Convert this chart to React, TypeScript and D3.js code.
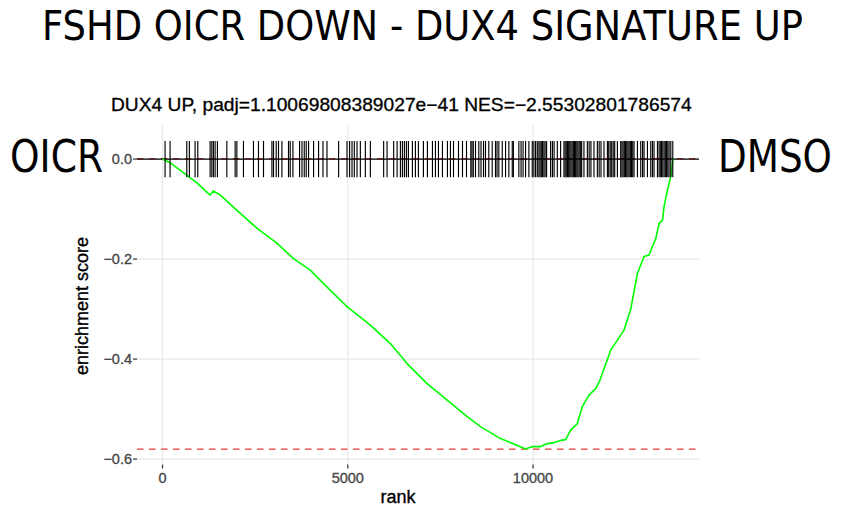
import { useEffect, useRef } from "react";
import * as d3 from "d3";

// number of ranked genes
const N_GENES = 13790;

// positions (rank) of the DUX4 UP pathway genes
const hitRanks = [
  68, 203, 654, 724, 878, 951, 1284, 1330, 1373, 1419, 1481, 1735, 1960, 2006,
  2184, 2454, 2589, 2725, 2952, 2995, 3068, 3130, 3222, 3400, 3446, 3519, 3698,
  3763, 3825, 3879, 3941, 4076, 4211, 4330, 4438, 4752, 4979, 5049, 5114, 5176,
  5249, 5339, 5474, 5609, 5968, 6060, 6238, 6331, 6420, 6474, 6528, 6582, 6636,
  6744, 6825, 6906, 7041, 7149, 7285, 7366, 7447, 7555, 7690, 7771, 7853, 7988,
  8096, 8204, 8320, 8352, 8387, 8447, 8536, 8596, 8663, 8717, 8806, 8898, 8987,
  9028, 9077, 9169, 9258, 9347, 9439, 9469, 9617, 9677, 9731, 9798, 9888, 9979,
  10023, 10069, 10115, 10158, 10190, 10223, 10258, 10293, 10325, 10366, 10474,
  10523, 10569, 10655, 10744, 10834, 10866, 10896, 10928, 10961, 10993, 11023,
  11055, 11088, 11117, 11150, 11182, 11212, 11244, 11277, 11312, 11374, 11466,
  11515, 11563, 11645, 11736, 11785, 11834, 11915, 12007, 12042, 12083, 12123,
  12164, 12204, 12277, 12366, 12399, 12431, 12464, 12496, 12529, 12561, 12593,
  12626, 12658, 12691, 12726, 12818, 12907, 12956, 12996, 13088, 13177, 13223,
  13266, 13358, 13401, 13434, 13466, 13502, 13537, 13570, 13601, 13637, 13672,
  13718, 13772,
];

// running enrichment score
const esRank = [
  0, 235, 650, 920, 1284, 1370, 1560, 2000, 2545, 3085, 3535, 3987, 4347, 4978,
  5608, 6149, 6600, 7141, 7682, 8223, 8582, 9123, 9483, 9800, 9980, 10204,
  10385, 10565, 10790, 10880, 11015, 11195, 11330, 11510, 11690, 11807, 12097,
  12456, 12637, 12817, 12997, 13132, 13222, 13312, 13402, 13493, 13537, 13627,
  13735, 13772, 13790,
];
const esValue = [
  0, -0.009, -0.032, -0.047, -0.072, -0.064, -0.072, -0.102, -0.138, -0.168,
  -0.199, -0.222, -0.249, -0.295, -0.332, -0.369, -0.409, -0.449, -0.482,
  -0.515, -0.535, -0.559, -0.57, -0.58, -0.575, -0.575, -0.569, -0.567, -0.562,
  -0.561, -0.542, -0.529, -0.495, -0.472, -0.459, -0.442, -0.382, -0.342, -0.3,
  -0.229, -0.195, -0.192, -0.175, -0.159, -0.129, -0.122, -0.095, -0.062,
  -0.029, 0, 0,
];

const topES = 0.001;
const bottomES = -0.58;

const xTicks = [0, 5000, 10000];
const yTicks = [0, -0.2, -0.4, -0.6];

const mainTitle = "FSHD OICR DOWN - DUX4 SIGNATURE UP";
const plotTitle = "DUX4 UP, padj=1.10069808389027e\u221241 NES=\u22122.55302801786574";
const leftLabel = "OICR";
const rightLabel = "DMSO";

const GG = "'Liberation Sans', Arial, sans-serif";
const DJ = "'DejaVu Sans', sans-serif";

type Sel = d3.Selection<SVGSVGElement, unknown, null, undefined>;

// text squeezed horizontally to a measured width
function fitText(svg: Sel, txt: string, x: number, y: number, w: number, size: number, family: string, weight = "normal") {
  const t = svg
    .append("text")
    .attr("font-family", family)
    .attr("font-size", size)
    .attr("font-weight", weight)
    .text(txt);
  const len = (t.node() as SVGTextElement).getComputedTextLength() || w;
  t.attr("transform", `translate(${x},${y}) scale(${w / len},1)`);
  return t;
}

export default function App() {
  const ref = useRef<SVGSVGElement | null>(null);

  useEffect(() => {
    if (!ref.current) return;
    const svg = d3.select(ref.current);
    svg.selectAll("*").remove();

    const panel = { left: 137, right: 699, top: 125.5, bottom: 464.5 };
    const diff = (topES - bottomES) / 8;

    const x = d3
      .scaleLinear()
      .domain([-0.05 * N_GENES, 1.05 * N_GENES])
      .range([panel.left, panel.right]);

    const yMin = Math.min(bottomES, -diff / 2);
    const yMax = Math.max(topES, diff / 2);
    const pad = (yMax - yMin) * 0.05;
    const y = d3
      .scaleLinear()
      .domain([yMin - pad, yMax + pad])
      .range([panel.bottom, panel.top]);

    svg
      .append("rect")
      .attr("width", 845)
      .attr("height", 521)
      .attr("fill", "white");

    // grid
    const grid = svg.append("g").attr("stroke", "#e8e8e8").attr("stroke-width", 1.2);
    xTicks.forEach((t) => {
      grid
        .append("line")
        .attr("x1", x(t))
        .attr("x2", x(t))
        .attr("y1", panel.top)
        .attr("y2", panel.bottom);
    });
    yTicks.forEach((t) => {
      grid
        .append("line")
        .attr("x1", panel.left)
        .attr("x2", panel.right)
        .attr("y1", y(t))
        .attr("y2", y(t));
    });

    const pts: [number, number][] = esRank.map((r, i) => [r, esValue[i]]);

    // points
    svg
      .append("g")
      .selectAll("circle")
      .data(pts)
      .join("circle")
      .attr("cx", (d) => x(d[0]))
      .attr("cy", (d) => y(d[1]))
      .attr("r", 0.7)
      .attr("fill", "#00ff00");

    // dashed extremes
    [topES, bottomES].forEach((v) => {
      svg
        .append("line")
        .attr("x1", panel.left)
        .attr("x2", panel.right)
        .attr("y1", y(v))
        .attr("y2", y(v))
        .attr("stroke", "#ee3b3b")
        .attr("stroke-width", 1.2)
        .attr("stroke-dasharray", "6.5,5.5");
    });

    svg
      .append("line")
      .attr("x1", panel.left)
      .attr("x2", panel.right)
      .attr("y1", y(0))
      .attr("y2", y(0))
      .attr("stroke", "black")
      .attr("stroke-width", 1.3);

    const line = d3
      .line<[number, number]>()
      .x((d) => x(d[0]))
      .y((d) => y(d[1]));

    svg
      .append("path")
      .datum(pts)
      .attr("fill", "none")
      .attr("stroke", "#00ff00")
      .attr("stroke-width", 1.6)
      .attr("stroke-linejoin", "round")
      .attr("d", line);

    // rug of pathway genes
    svg
      .append("g")
      .selectAll("line")
      .data(hitRanks)
      .join("line")
      .attr("x1", (d) => x(d))
      .attr("x2", (d) => x(d))
      .attr("y1", y(-diff / 2))
      .attr("y2", y(diff / 2))
      .attr("stroke", "black")
      .attr("stroke-width", 1.15);

    // axes
    const xAxis = svg.append("g");
    xTicks.forEach((t) => {
      xAxis
        .append("line")
        .attr("x1", x(t))
        .attr("x2", x(t))
        .attr("y1", panel.bottom)
        .attr("y2", panel.bottom + 4)
        .attr("stroke", "#333333")
        .attr("stroke-width", 1.2);
      xAxis
        .append("text")
        .attr("x", x(t))
        .attr("y", 483)
        .attr("text-anchor", "middle")
        .attr("font-family", GG)
        .attr("font-size", 14.5)
        .attr("fill", "#444444")
        .attr("stroke", "#444444")
        .attr("stroke-width", 0.3)
        .text(d3.format("d")(t));
    });

    const yAxis = svg.append("g");
    yTicks.forEach((t) => {
      yAxis
        .append("line")
        .attr("x1", panel.left - 4)
        .attr("x2", panel.left)
        .attr("y1", y(t))
        .attr("y2", y(t))
        .attr("stroke", "#333333")
        .attr("stroke-width", 1.2);
      yAxis
        .append("text")
        .attr("x", panel.left - 5)
        .attr("y", y(t))
        .attr("dy", "0.35em")
        .attr("text-anchor", "end")
        .attr("font-family", GG)
        .attr("font-size", 14.5)
        .attr("fill", "#444444")
        .attr("stroke", "#444444")
        .attr("stroke-width", 0.3)
        .text(d3.format(".1f")(t).replace("-", "\u2212"));
    });

    svg
      .append("text")
      .attr("x", 398)
      .attr("y", 503)
      .attr("text-anchor", "middle")
      .attr("font-family", GG)
      .attr("font-size", 18)
      .attr("stroke", "black")
      .attr("stroke-width", 0.35)
      .text("rank");

    svg
      .append("text")
      .attr("transform", "translate(88,306) rotate(-90)")
      .attr("text-anchor", "middle")
      .attr("font-family", GG)
      .attr("font-size", 18)
      .attr("stroke", "black")
      .attr("stroke-width", 0.35)
      .text("enrichment score");

    fitText(svg, plotTitle, 111, 111, 581, 18, GG)
      .attr("stroke", "black")
      .attr("stroke-width", 0.3);

    // composite labels around the plot
    fitText(svg, mainTitle, 42, 40, 761, 41, DJ);
    fitText(svg, leftLabel, 10, 172, 93, 44, DJ);
    fitText(svg, rightLabel, 718, 172, 114, 44, DJ);
  }, []);

  return (
    <svg
      ref={ref}
      width={845}
      height={521}
      style={{ position: "absolute", left: 0, top: 0, display: "block" }}
    />
  );
}
